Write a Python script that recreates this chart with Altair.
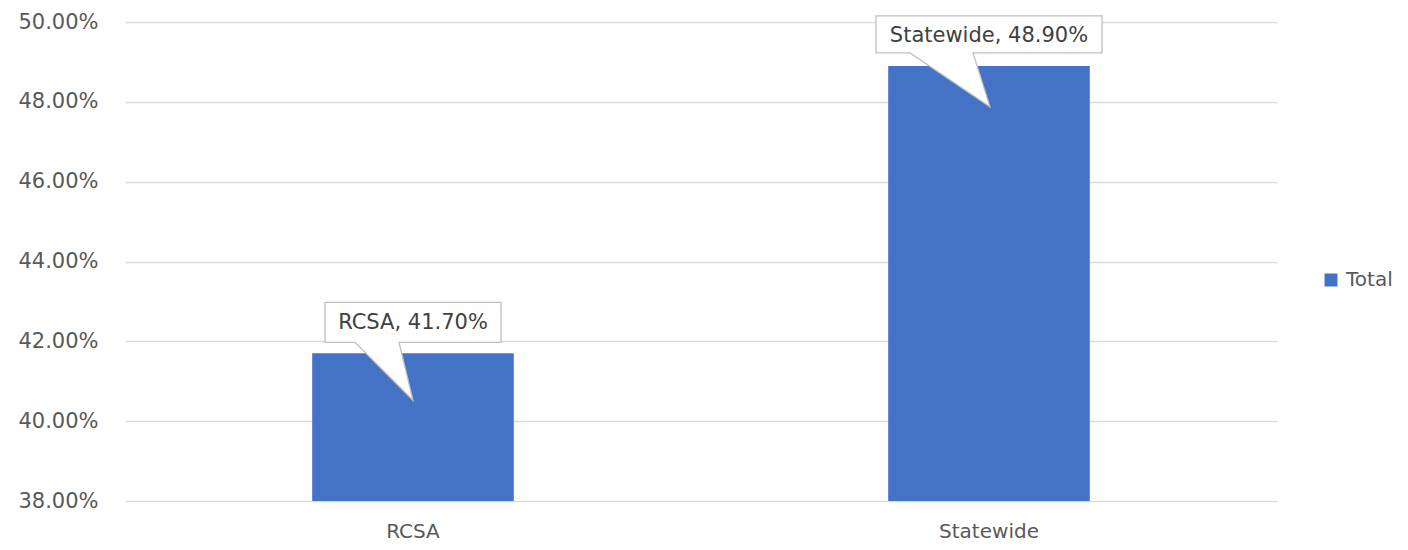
import altair as alt
import pandas as pd

categories = ["RCSA", "Statewide"]
values = [0.417, 0.489]
series = ["Total", "Total"]

df = pd.DataFrame({"category": categories, "value": values, "series": series})
df["label"] = [f"{c}, {v * 100:.2f}%" for c, v in zip(categories, values)]

FONT = "DejaVu Sans"
GRAY = "#595959"
BLUE = "#4472C4"

# Callout outlines (box + pointer), drawn relative to each bar top, in pixels (size=4 -> scale 1)
callout_paths = {
    "RCSA": "M -88 -51 L 88 -51 L 88 -11 L -14 -11 L 0 47 L -58 -11 L -88 -11 Z",
    "Statewide": "M -113 -50 L 113 -50 L 113 -13 L -16 -13 L 1 41 L -79 -13 L -113 -13 Z",
}

x_enc = alt.X(
    "category:N",
    sort=categories,
    title=None,
    scale=alt.Scale(paddingInner=0.65, paddingOuter=0.325),
    axis=alt.Axis(
        labelAngle=0,
        labelFont=FONT,
        labelFontSize=20,
        labelColor=GRAY,
        labelPadding=20,
        domain=False,
        ticks=False,
    ),
)
y_enc = alt.Y(
    "value:Q",
    title=None,
    scale=alt.Scale(domain=[0.38, 0.50], zero=False, nice=False),
    axis=alt.Axis(
        format=".2%",
        values=[0.38, 0.40, 0.42, 0.44, 0.46, 0.48, 0.50],
        labelFont=FONT,
        labelFontSize=21,
        labelColor=GRAY,
        labelPadding=27,
        domain=False,
        ticks=False,
        gridColor="#d9d9d9",
        gridWidth=1.5,
    ),
)

base = alt.Chart(df)

bars = base.mark_bar(clip=True).encode(
    x=x_enc,
    y=y_enc,
    color=alt.Color(
        "series:N",
        scale=alt.Scale(range=[BLUE]),
        legend=alt.Legend(
            title=None,
            orient="none",
            legendX=1196,
            legendY=248,
            padding=0,
            symbolType="square",
            symbolSize=169,
            symbolStrokeWidth=0,
            labelFont=FONT,
            labelFontSize=20,
            labelColor=GRAY,
            labelOffset=5,
        ),
    ),
)

callouts = []
for cat in categories:
    callouts.append(
        base.transform_filter(alt.datum.category == cat)
        .mark_point(
            shape=callout_paths[cat],
            size=4,
            filled=True,
            fill="white",
            stroke="#bfbfbf",
            strokeWidth=1.3,
            opacity=1,
        )
        .encode(x=alt.X("category:N", sort=categories), y="value:Q")
    )

texts = base.mark_text(
    font=FONT, fontSize=21, color="#404040", baseline="middle", align="center", dy=-30
).encode(x=alt.X("category:N", sort=categories), y="value:Q", text="label:N")

chart = (
    alt.layer(bars, *callouts, texts)
    .properties(
        width=1152,
        height=479,
        autosize=alt.AutoSizeParams(type="none"),
        padding={"left": 117, "top": 14, "right": 123, "bottom": 41},
        background="white",
    )
    .configure_view(stroke=None)
)

chart.save("out.html", embed_options={"renderer": "svg", "actions": False})
